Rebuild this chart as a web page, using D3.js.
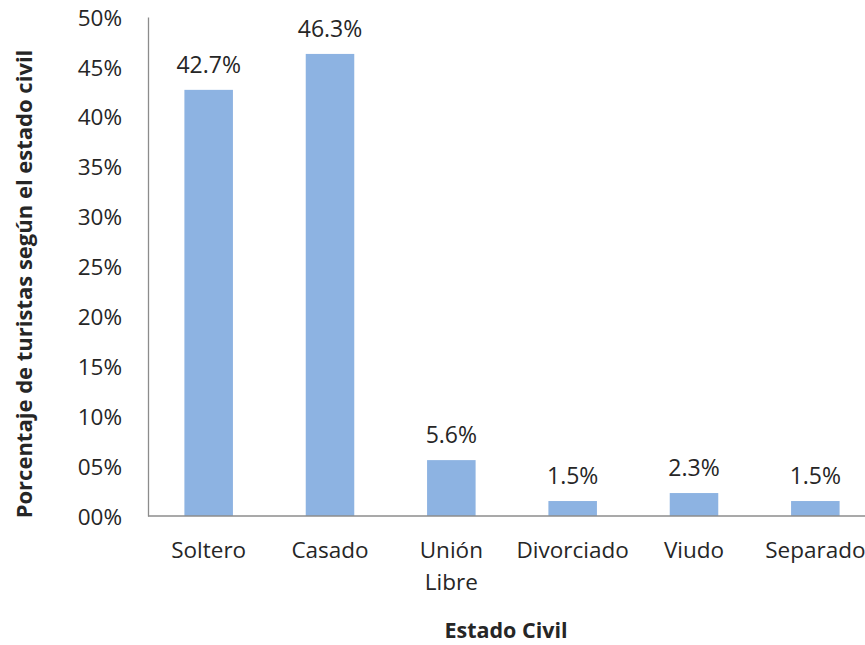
<!DOCTYPE html>
<meta charset="utf-8">
<script src="https://d3js.org/d3.v7.min.js"></script>
<style>
body { margin: 0; background: #fff; }
text { font-family: "Open Sans", sans-serif; fill: #262626; }
.tick text { font-size: 22.5px; }
.label { font-size: 23px; text-anchor: middle; }
.title { font-weight: bold; }
</style>
<body></body>
<script>
const categories = [["Soltero"], ["Casado"], ["Unión", "Libre"], ["Divorciado"], ["Viudo"], ["Separado"]];
const values = [42.7, 46.3, 5.6, 1.5, 2.3, 1.5];
const yTicks = [0, 5, 10, 15, 20, 25, 30, 35, 40, 45, 50];

const width = 865, height = 645;
const plotLeft = 148, plotRight = 876, plotTop = 17, plotBottom = 516;

const svg = d3.select("body").append("svg")
  .attr("width", width)
  .attr("height", height);

const x = d3.scaleBand()
  .domain(d3.range(categories.length))
  .range([plotLeft, plotRight])
  .paddingInner(0.6)
  .paddingOuter(0.3);

const y = d3.scaleLinear()
  .domain([0, 50])
  .range([plotBottom, plotTop]);

// y axis labels, no tick marks
const yAxis = svg.append("g")
  .attr("transform", `translate(${plotLeft},0)`)
  .call(d3.axisLeft(y).tickValues(yTicks).tickSize(0).tickPadding(26)
    .tickFormat(d => String(d).padStart(2, "0") + "%"));
yAxis.select(".domain").attr("stroke", "#8c8c8c").attr("stroke-width", 1.3);
yAxis.selectAll(".tick text").attr("dy", "0.36em").style("font-family", "Open Sans");

// bars
svg.selectAll(".bar")
  .data(values)
  .join("rect")
  .attr("class", "bar")
  .attr("x", (d, i) => x(i))
  .attr("width", x.bandwidth())
  .attr("y", d => y(d))
  .attr("height", d => y(0) - y(d))
  .attr("fill", "#8db3e2");

// baseline
svg.append("line")
  .attr("x1", plotLeft).attr("x2", width)
  .attr("y1", y(0)).attr("y2", y(0))
  .attr("stroke", "#8c8c8c").attr("stroke-width", 1.3);

// value labels
svg.selectAll(".label")
  .data(values)
  .join("text")
  .attr("class", "label")
  .attr("x", (d, i) => x(i) + x.bandwidth() / 2)
  .attr("y", d => y(d) - 17)
  .text(d => d.toFixed(1) + "%");

// category labels
const cat = svg.selectAll(".cat")
  .data(categories)
  .join("text")
  .attr("class", "cat")
  .attr("text-anchor", "middle")
  .style("font-size", "22.5px")
  .attr("x", (d, i) => x(i) + x.bandwidth() / 2)
  .attr("y", 558);
cat.selectAll("tspan")
  .data(d => d)
  .join("tspan")
  .attr("x", function() { return this.parentNode.getAttribute("x"); })
  .attr("dy", (d, i) => i === 0 ? 0 : 32)
  .text(d => d);

// axis titles
svg.append("text")
  .attr("class", "title")
  .attr("text-anchor", "middle")
  .style("font-size", "21.5px")
  .attr("x", 506)
  .attr("y", 638)
  .text("Estado Civil");

svg.append("text")
  .attr("class", "title")
  .attr("text-anchor", "middle")
  .style("font-size", "22px")
  .attr("transform", "translate(32,284) rotate(-90)")
  .text("Porcentaje de turistas según el estado civil");
</script>
